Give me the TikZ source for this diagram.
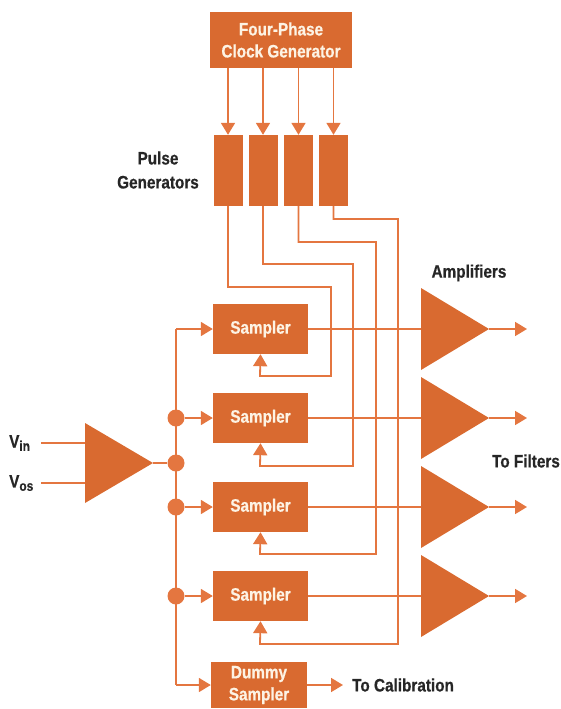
\documentclass[tikz,border=0pt]{standalone}
\usepackage{fontspec}
\setmainfont{Liberation Sans}[FakeStretch=0.85, BoldFeatures={FakeBold=0.6}]
\usetikzlibrary{arrows.meta}
\definecolor{org}{RGB}{217,106,48}
\definecolor{wire}{RGB}{228,118,64}
\definecolor{txt}{RGB}{38,38,38}
\definecolor{boxtxt}{RGB}{253,243,228}
\begin{document}
\begin{tikzpicture}[x=1pt,y=-1pt,
  box/.style={fill=org, draw=none, text=boxtxt, font=\fontsize{18}{22}\selectfont\bfseries, inner sep=0pt, align=center},
  wirel/.style={draw=wire, line width=1.8pt},
  arr/.style={wirel, -{Triangle[width=14pt,length=12pt]}},
  lbl/.style={text=txt, font=\fontsize{18}{24}\selectfont\bfseries, align=center, inner sep=0pt},
  dot/.style={circle, fill=wire, minimum size=17pt, inner sep=0pt},
  amp/.style={fill=org}]
\useasboundingbox (0,0) rectangle (561,709);

% clock generator and pulse generators
\node[box, minimum width=142pt, minimum height=56pt] (clk) at (281,40) {Four-Phase\\Clock Generator};
\node[box, minimum width=29pt, minimum height=71pt] (pg1) at (228,170.5) {};
\node[box, minimum width=29pt, minimum height=71pt] (pg2) at (263,170.5) {};
\node[box, minimum width=29pt, minimum height=71pt] (pg3) at (298.5,170.5) {};
\node[box, minimum width=29pt, minimum height=71pt] (pg4) at (333.5,170.5) {};
\node[lbl] (pglbl) at (158,170) {Pulse\\Generators};
\foreach \p in {pg1,pg2,pg3,pg4}{\draw[arr] (clk.south -| \p.north) -- (\p.north);}

% samplers
\node[box, minimum width=95pt, minimum height=50pt] (s1) at (260.5,329) {Sampler};
\node[box, minimum width=95pt, minimum height=50pt] (s2) at (260.5,418) {Sampler};
\node[box, minimum width=95pt, minimum height=50pt] (s3) at (260.5,507) {Sampler};
\node[box, minimum width=95pt, minimum height=50pt] (s4) at (260.5,596) {Sampler};
\node[box, minimum width=96pt, minimum height=46pt] (dum) at (259,685) {Dummy\\Sampler};

% clock wires to samplers
\draw[arr] (pg1.south) |- (331,287) |- (260,376) -- (s1.south);
\draw[arr] (pg2.south) |- (353,264) |- (260,466) -- (s2.south);
\draw[arr] (pg3.south) |- (376,242) |- (260,554) -- (s3.south);
\draw[arr] (pg4.south) |- (398,219) |- (260,644) -- (s4.south);

% input amplifier
\fill[amp] (85,423) -- (85,503) -- (153,463) -- cycle;
\coordinate (ina) at (85,443);
\coordinate (inb) at (85,483);
\coordinate (inout) at (153,463);
\node[lbl, anchor=west] (vin) at (9,443) {V\raisebox{-0.35ex}{\fontsize{14}{14}\selectfont in}};
\node[lbl, anchor=west] (vos) at (9,483) {V\raisebox{-0.35ex}{\fontsize{14}{14}\selectfont os}};
\coordinate (vina) at (41,443);
\coordinate (vosa) at (41,483);
\draw[wirel] (vina) -- (ina);
\draw[wirel] (vosa) -- (inb);

% bus and dots
\coordinate (bt) at (176,329);
\coordinate (bb) at (176,685);
\draw[wirel] (bt) -- (bb);
\node[dot] (d2) at (176,418) {};
\node[dot] (d3) at (176,463) {};
\node[dot] (d4) at (176,507) {};
\node[dot] (d5) at (176,596) {};
\draw[wirel] (inout) -- (d3);
\draw[arr] (bt) -- (s1.west);
\draw[arr] (d2) -- (s2.west);
\draw[arr] (d4) -- (s3.west);
\draw[arr] (d5) -- (s4.west);
\draw[arr] (bb) -- (dum.west);

% calibration output
\coordinate (cal) at (343,685);
\draw[arr] (dum.east) -- (cal);
\node[lbl, anchor=west] (callbl) at (352,685) {To Calibration};

% output amplifiers
\foreach \i/\y in {1/329,2/418,3/507,4/596}{
  \fill[amp] (421,\y-41) -- (421,\y+41) -- (489,\y) -- cycle;
  \coordinate (a\i in) at (421,\y);
  \coordinate (a\i out) at (489,\y);
  \coordinate (a\i end) at (527,\y);
  \draw[wirel] (s\i.east) -- (a\i in);
  \draw[arr] (a\i out) -- (a\i end);
}
\node[lbl] (amplbl) at (469,273) {Amplifiers};
\node[lbl] (filtlbl) at (526,461) {To Filters};
\end{tikzpicture}
\end{document}
